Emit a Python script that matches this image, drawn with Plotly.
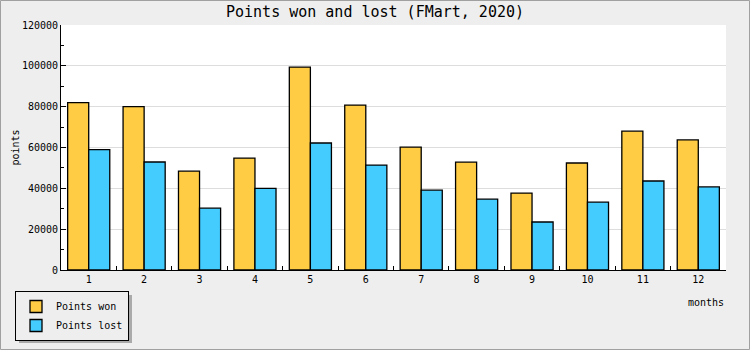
import plotly.graph_objects as go

months = [str(i) for i in range(1, 13)]
points_won = [82000, 80000, 48400, 54800, 99400, 80800, 60200, 52800, 37700, 52400, 68000, 63700]
points_lost = [59000, 52900, 30300, 40000, 62200, 51400, 39100, 34700, 23500, 33200, 43600, 40700]

FONT = "DejaVu Sans Mono"
W, H = 750, 350
ML, MR, MT, MB = 61, 24, 25, 80
PW, PH = W - ML - MR, H - MT - MB

def px(x):
    return (x - ML) / PW

def py(y):
    return (H - MB - y) / PH

LEG_X, LEG_Y = 15, 291

fig = go.Figure()
fig.add_trace(go.Bar(x=months, y=points_won, name="Points won",
                     marker=dict(color="#FFCC44", line=dict(color="black", width=1.3))))
fig.add_trace(go.Bar(x=months, y=points_lost, name="Points lost",
                     marker=dict(color="#44CCFF", line=dict(color="black", width=1.3))))

fig.update_layout(
    width=W, height=H,
    margin=dict(l=ML, r=MR, t=MT, b=MB, pad=0, autoexpand=False),
    paper_bgcolor="#EEEEEE", plot_bgcolor="white",
    barmode="group", bargap=0.24, bargroupgap=0,
    font=dict(family=FONT, size=10, color="black"),
    title=dict(text="Points won and lost (FMart, 2020)", x=0.5, xanchor="center",
               y=1 - 12 / H, yanchor="middle", yref="container",
               font=dict(family=FONT, size=15, color="black")),
    legend=dict(x=LEG_X / W, y=1 - LEG_Y / H, xref="container", yref="container",
                xanchor="left", yanchor="top",
                bgcolor="#EEEEEE", bordercolor="black", borderwidth=1,
                font=dict(family=FONT, size=10), tracegroupgap=0),
    xaxis=dict(type="category", tickson="boundaries", ticks="inside", ticklen=4,
               tickcolor="black", showline=True, linecolor="black", linewidth=1,
               showgrid=False, tickfont=dict(size=10)),
    yaxis=dict(range=[0, 120000], dtick=20000, tickformat="d", ticks="inside", ticklen=5,
               tickcolor="black", showline=True, linecolor="black", linewidth=1,
               showgrid=True, gridcolor="#DDDDDD", gridwidth=1, zeroline=False,
               minor=dict(dtick=10000, ticks="inside", ticklen=3, tickcolor="black", showgrid=False),
               tickfont=dict(size=10)),
    annotations=[
        dict(text="months", xref="paper", yref="paper", x=1, y=py(302),
             xanchor="right", yanchor="middle", showarrow=False,
             font=dict(family=FONT, size=10)),
        dict(text="points", xref="paper", yref="paper", x=px(15), y=0.5, textangle=-90,
             xanchor="center", yanchor="middle", showarrow=False,
             font=dict(family=FONT, size=10)),
    ],
    shapes=[
        dict(type="rect", xref="paper", yref="paper", x0=px(LEG_X + 4), x1=px(LEG_X + 117),
             y0=py(LEG_Y + 52), y1=py(LEG_Y + 4),
             fillcolor="#AAAAAA", line=dict(width=0), layer="below"),
        dict(type="rect", xref="paper", yref="paper", x0=px(0.5), x1=px(W - 0.5), y0=py(H - 0.5), y1=py(0.5),
             fillcolor="rgba(0,0,0,0)", line=dict(color="#A0A0A0", width=1), layer="above"),
    ],
)

fig.write_html("out.html")
